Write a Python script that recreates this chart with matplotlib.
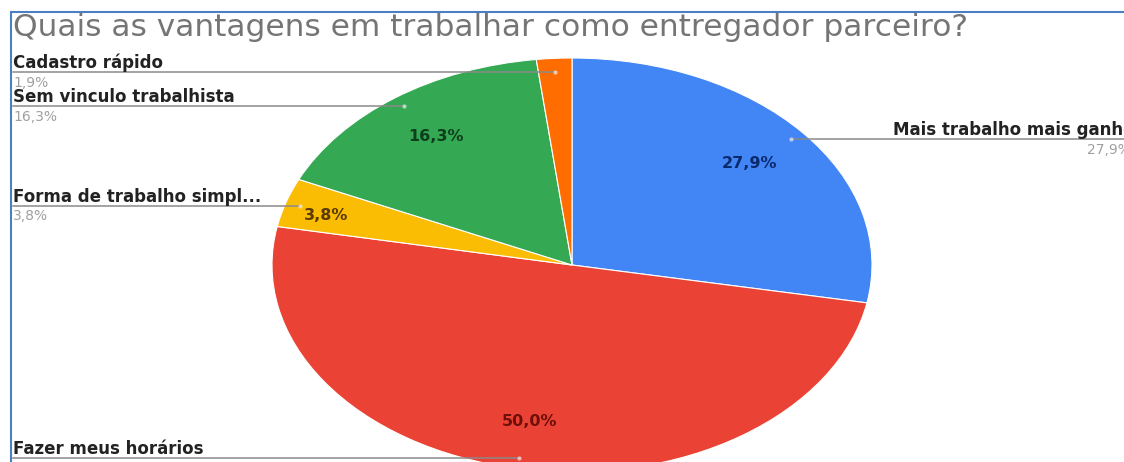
import numpy as np
import matplotlib.pyplot as plt
from matplotlib.lines import Line2D

plt.rcParams['font.family'] = ['DejaVu Sans']

title = "Quais as vantagens em trabalhar como entregador parceiro?"
categories = ["Mais trabalho mais ganho", "Fazer meus horários",
              "Forma de trabalho simpl...", "Sem vinculo trabalhista",
              "Cadastro rápido"]
shares = [27.9, 50.0, 3.8, 16.3, 1.9]
colors = ["#4285F4", "#EA4335", "#FBBC04", "#34A853", "#FF6D01"]
inner_colors = ["#0B2A6E", "#6E0F0A", "#5A3B00", "#0D3F1C", "#6B2A00"]

W, H = 1124, 462
cx, cy, rx, ry = 572, 265, 300, 207   # pie centre / radii in pixels


def fmt(v):
    return f"{v:.1f}%".replace(".", ",")


def px(x, y):
    # pixel position (from top-left) -> data coords of the pie axes
    return (x - cx) / rx, (cy - y) / ry


fig = plt.figure(figsize=(W / 100, H / 100), dpi=100)
ax = fig.add_axes([0, 0, 1, 1])
wedges, _ = ax.pie(shares, colors=colors, startangle=90, counterclock=False,
                   wedgeprops=dict(edgecolor="white", linewidth=0.8))
ax.set_aspect("auto")
ax.set_xlim(-cx / rx, (W - cx) / rx)
ax.set_ylim(-(H - cy) / ry, cy / ry)
ax.axis("off")

# inner percentage labels
for w, v, c in zip(wedges, shares, inner_colors):
    if v < 3:
        continue
    a = np.deg2rad((w.theta1 + w.theta2) / 2)
    r = 0.86 if v < 5 else 0.77
    ax.text(r * np.cos(a), r * np.sin(a) - (0.02 if v < 5 else 0), fmt(v),
            ha="center", va="center", fontsize=11.5, fontweight="bold", color=c)

# leader lines with outside labels
left_x, _ = px(13, 0)
for w, name, v in zip(wedges, categories, shares):
    a = np.deg2rad((w.theta1 + w.theta2) / 2)
    dx, dy = 0.95 * np.cos(a), 0.95 * np.sin(a)
    if v < 3:
        dy -= 3 / ry
    off = 9 / ry
    if dx > 0:
        ax.plot([dx, (W - cx) / rx], [dy, dy], color="#8a8a8a", lw=1.1)
        ax.text(px(893, 0)[0], dy + off, name, ha="left", va="center",
                fontsize=12, fontweight="bold", color="#222222")
        ax.text(px(1131, 0)[0], dy - off * 1.2, fmt(v), ha="right", va="center",
                fontsize=10, color="#a0a0a0")
    else:
        ax.plot([left_x, dx], [dy, dy], color="#8a8a8a", lw=1.1)
        ax.text(left_x, dy + off, name, ha="left", va="center",
                fontsize=12, fontweight="bold", color="#222222")
        ax.text(left_x, dy - off * 1.2, fmt(v), ha="left", va="center",
                fontsize=10, color="#a0a0a0")
    ax.plot([dx], [dy], "o", ms=3, color="white", alpha=0.6, mec="none")

# frame lines on top and left
fig.add_artist(Line2D([11 / W, 1], [1 - 12 / H, 1 - 12 / H], color="#4A7FC1", lw=1.5))
fig.add_artist(Line2D([11 / W, 11 / W], [0, 1 - 12 / H], color="#4A7FC1", lw=1.5))

fig.text(13 / W, 1 - 27 / H, title, ha="left", va="center",
         fontsize=22.5, color="#757575")

fig.savefig("out.png", dpi=100)
